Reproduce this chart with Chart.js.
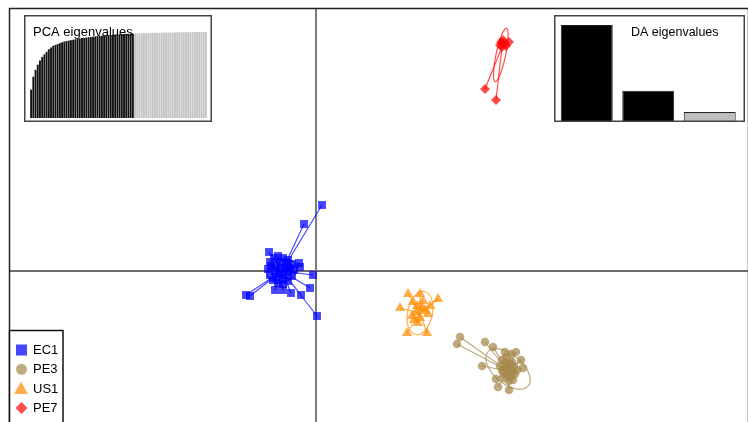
<!DOCTYPE html>
<html>
<head>
<meta charset="utf-8">
<script src="https://cdn.jsdelivr.net/npm/chart.js@4.4.1/dist/chart.umd.min.js"></script>
<style>
  body { margin: 0; background: #fff; overflow: hidden; }
  #wrap { position: relative; width: 748px; height: 422px; }
  canvas { position: absolute; }
</style>
</head>
<body>
<div id="wrap">
  <canvas id="scatter" width="748" height="430" style="left:0;top:0"></canvas>
  <canvas id="pcaInset" width="188" height="107" style="left:24px;top:15px"></canvas>
  <canvas id="daInset" width="191" height="107" style="left:554px;top:15px"></canvas>
</div>
<script>
// group labels and colours
const groups = ["EC1", "PE3", "US1", "PE7"];
const groupColors = ["rgba(0,0,255,0.72)", "rgba(165,135,75,0.7)", "rgba(255,140,0,0.7)", "rgba(255,0,0,0.7)"];
const groupShapes = ["rect", "circle", "triangle", "rectRot"];

// discriminant scores (LD1, LD2) per group
const ec1Scores = [
  [-1.15, 0.225], [-1.05, 0.325], [-0.95, 0.375], [-0.825, 0.325], [-0.7, 0.275], [-0.6, 0.175],
  [-0.55, 0.025], [-0.6, -0.125], [-0.7, -0.25], [-0.825, -0.325], [-0.95, -0.3], [-1.075, -0.225],
  [-1.15, -0.1], [-1.2, 0.05], [-1.0, 0.125], [-0.875, 0.075], [-0.75, 0.1], [-0.925, -0.075],
  [-0.8, -0.1], [-0.7, -0.025], [-1.025, 0], [-0.65, 0.075], [-1.125, 0.125], [-0.725, 0.2],
  [-0.9, 0.225], [-0.825, -0.2], [-1.0, -0.15],
  [-1.175, 0.475], [-0.3, 1.175], [0.15, 1.65], [-0.425, 0.2], [-0.4, 0.1], [-0.075, -0.1],
  [-0.15, -0.425], [-0.375, -0.6], [-0.625, -0.55], [-0.825, -0.475], [-1.025, -0.475],
  [-1.75, -0.6], [-1.65, -0.625], [0.025, -1.125]
];
const pe3Scores = [
  [3.6, -1.65], [3.525, -1.825], [4.225, -1.775], [4.425, -1.9], [4.15, -2.375], [4.5, -2.7],
  [4.55, -2.9], [4.825, -2.975], [5.175, -2.425], [5.125, -2.225], [5.0, -2.025], [4.725, -2.025],
  [4.875, -2.075], [4.65, -2.225], [4.75, -2.275], [4.85, -2.325], [4.95, -2.375], [4.725, -2.425],
  [4.825, -2.475], [4.925, -2.525], [4.675, -2.55], [4.775, -2.6], [4.875, -2.65], [4.975, -2.575],
  [4.6, -2.375], [4.7, -2.675], [4.825, -2.75], [4.925, -2.725], [5.025, -2.475], [4.65, -2.475],
  [4.8, -2.375], [4.9, -2.275], [4.75, -2.15]
];
const us1Scores = [
  [2.3, -0.575], [2.6, -0.575], [3.05, -0.7], [2.1, -0.925], [2.275, -1.55], [2.775, -1.55],
  [2.425, -0.775], [2.675, -0.75], [2.525, -0.875], [2.725, -0.975], [2.8, -1.075], [2.5, -1.025],
  [2.6, -1.175], [2.55, -1.3], [2.4, -1.125], [2.65, -0.925], [2.85, -0.875], [2.45, -1.225]
];
const pe7Scores = [
  [4.225, 4.55], [4.5, 4.275], [4.825, 5.725], [4.65, 5.6], [4.7, 5.7], [4.6, 5.65],
  [4.675, 5.775], [4.75, 5.625], [4.625, 5.725]
];
const groupScores = [ec1Scores, pe3Scores, us1Scores, pe7Scores];

// group centroids (star centres)
const groupCenters = [[-0.85, 0], [4.8, -2.5], [2.6, -1.05], [4.65, 5.6]];
// inertia ellipses: centre, semi-axes (LD units), angle in degrees
const ellipseCenters = [[-0.85, 0], [4.8, -2.45], [2.6, -1.05], [4.62, 5.4]];
const ellipseAxes = [[0.38, 0.28], [0.66, 0.36], [0.55, 0.31], [0.68, 0.12]];
const ellipseAngles = [20, -40, 78, 78];

// cumulative PCA eigenvalues (%) and number of retained PCs
const pcaEig = [
  33, 48, 56, 62, 67, 71, 74, 77, 80, 82, 84, 85, 86, 87, 88, 89, 89.5, 90, 90.5, 91,
  91.5, 92, 92.5, 93, 93.3, 93.6, 94, 94.3, 94.6, 94.9, 95.2, 95.5, 95.7, 95.9, 96.1, 96.3,
  96.5, 96.7, 96.9, 97.1, 97.3, 97.5, 97.7, 97.8, 97.9, 98, 98.1,
  98.3, 98.4, 98.5, 98.6, 98.7, 98.8, 98.9, 99, 99.05, 99.1, 99.15, 99.2, 99.25, 99.3,
  99.35, 99.4, 99.45, 99.5, 99.55, 99.6, 99.65, 99.7, 99.72, 99.75, 99.78, 99.8, 99.83,
  99.86, 99.9, 99.93, 99.96, 99.98, 100
];
const pcaRetained = 47;

// DA eigenvalues
const daEig = [97, 31.3, 10.1];
const daRetained = 2;

// build datasets
const datasets = [];
groups.forEach((g, i) => {
  datasets.push({
    label: g,
    data: groupScores[i].map(p => ({ x: p[0], y: p[1] })),
    pointStyle: groupShapes[i],
    pointRadius: [5.6, 4.3, 6, 5][i],
    backgroundColor: groupColors[i],
    borderColor: groupColors[i],
    borderWidth: 0,
    showLine: false,
    order: 0
  });
  const star = [];
  groupScores[i].forEach(p => {
    star.push({ x: groupCenters[i][0], y: groupCenters[i][1] });
    star.push({ x: p[0], y: p[1] });
  });
  datasets.push({
    label: g + " star",
    data: star,
    showLine: true,
    pointRadius: 0,
    borderColor: groupColors[i],
    borderWidth: 1.2,
    order: 1
  });
});

const scatterDecor = {
  id: "scatterDecor",
  beforeDatasetsDraw(chart) {
    const { ctx, chartArea, scales } = chart;
    const x0 = scales.x.getPixelForValue(0);
    const y0 = scales.y.getPixelForValue(0);
    ctx.save();
    ctx.strokeStyle = "#6e6e6e";
    ctx.lineWidth = 1.8;
    ctx.beginPath();
    ctx.moveTo(chartArea.left, y0);
    ctx.lineTo(chartArea.right, y0);
    ctx.moveTo(x0, chartArea.top);
    ctx.lineTo(x0, chartArea.bottom);
    ctx.stroke();
    // ellipses
    groups.forEach((g, i) => {
      const cx = scales.x.getPixelForValue(ellipseCenters[i][0]);
      const cy = scales.y.getPixelForValue(ellipseCenters[i][1]);
      const rx = Math.abs(scales.x.getPixelForValue(ellipseAxes[i][0]) - scales.x.getPixelForValue(0));
      const ry = Math.abs(scales.y.getPixelForValue(ellipseAxes[i][1]) - scales.y.getPixelForValue(0));
      ctx.strokeStyle = groupColors[i];
      ctx.lineWidth = 1.2;
      ctx.beginPath();
      ctx.ellipse(cx, cy, rx, ry, -ellipseAngles[i] * Math.PI / 180, 0, Math.PI * 2);
      ctx.stroke();
    });
    ctx.restore();
  },
  afterDraw(chart) {
    const { ctx, chartArea } = chart;
    ctx.save();
    // frame
    ctx.strokeStyle = "#222";
    ctx.lineWidth = 1.5;
    ctx.strokeRect(chartArea.left + 0.5, chartArea.top + 0.5, chartArea.right - chartArea.left, chartArea.bottom - chartArea.top);
    // legend
    ctx.fillStyle = "#fff";
    ctx.fillRect(9, 330, 54, 100);
    ctx.strokeStyle = "#111";
    ctx.strokeRect(9.5, 330.5, 53.5, 100);
    ctx.font = '13px "Liberation Sans", Arial, sans-serif';
    ctx.textBaseline = "middle";
    groups.forEach((g, i) => {
      const ly = 350 + i * 19.3;
      ctx.fillStyle = groupColors[i];
      ctx.beginPath();
      if (i === 0) {
        ctx.rect(16, ly - 5.5, 11, 11);
      } else if (i === 1) {
        ctx.arc(21.5, ly, 5.5, 0, Math.PI * 2);
      } else if (i === 2) {
        ctx.moveTo(21, ly - 7);
        ctx.lineTo(28, ly + 5.5);
        ctx.lineTo(14, ly + 5.5);
        ctx.closePath();
      } else {
        ctx.moveTo(21.5, ly - 6);
        ctx.lineTo(27.5, ly);
        ctx.lineTo(21.5, ly + 6);
        ctx.lineTo(15.5, ly);
        ctx.closePath();
      }
      ctx.fill();
      ctx.fillStyle = "#000";
      ctx.fillText(g, 33, ly + 0.5);
    });
    ctx.restore();
  }
};

new Chart(document.getElementById("scatter"), {
  type: "scatter",
  data: { datasets: datasets },
  options: {
    responsive: false,
    animation: false,
    layout: { autoPadding: false, padding: { left: 9, top: 8, right: 0, bottom: 1 } },
    scales: {
      x: { type: "linear", min: -7.675, max: 10.8, display: false },
      y: { type: "linear", min: -3.95, max: 6.575, display: false }
    },
    plugins: { legend: { display: false }, tooltip: { enabled: false } }
  },
  plugins: [scatterDecor]
});

// inset frame + title
function insetFrame(title, tx, ty, size) {
  return {
    id: "insetFrame",
    beforeDraw(chart) {
      const ctx = chart.ctx;
      ctx.save();
      ctx.fillStyle = "#fff";
      ctx.fillRect(0, 0, chart.width, chart.height);
      ctx.restore();
    },
    afterDraw(chart) {
      const ctx = chart.ctx;
      ctx.save();
      ctx.strokeStyle = "#444";
      ctx.lineWidth = 1.5;
      ctx.strokeRect(0.75, 0.75, chart.width - 1.5, chart.height - 1.5);
      ctx.fillStyle = "#000";
      ctx.font = size + 'px "Liberation Sans", Arial, sans-serif';
      ctx.textBaseline = "alphabetic";
      ctx.fillText(title, tx, ty);
      ctx.restore();
    }
  };
}

new Chart(document.getElementById("pcaInset"), {
  type: "bar",
  data: {
    labels: pcaEig.map((v, i) => i + 1),
    datasets: [{
      data: pcaEig,
      backgroundColor: pcaEig.map((v, i) => i < pcaRetained ? "#111" : "#c4c4c4"),
      borderWidth: 0,
      barPercentage: 0.85,
      categoryPercentage: 1
    }]
  },
  options: {
    responsive: false,
    animation: false,
    layout: { autoPadding: false, padding: { left: 6, top: 17, right: 5, bottom: 4 } },
    scales: {
      x: { display: false },
      y: { display: false, min: 0, max: 100 }
    },
    plugins: { legend: { display: false }, tooltip: { enabled: false } }
  },
  plugins: [insetFrame("PCA eigenvalues", 9, 21, 13)]
});

new Chart(document.getElementById("daInset"), {
  type: "bar",
  data: {
    labels: daEig.map((v, i) => i + 1),
    datasets: [{
      data: daEig,
      backgroundColor: daEig.map((v, i) => i < daRetained ? "#000" : "#bebebe"),
      borderColor: "#222",
      borderWidth: 1,
      barPercentage: 0.845,
      categoryPercentage: 1
    }]
  },
  options: {
    responsive: false,
    animation: false,
    layout: { autoPadding: false, padding: { left: 2, top: 7, right: 4.5, bottom: 0 } },
    scales: {
      x: { display: false },
      y: { display: false, min: 0, max: 100 }
    },
    plugins: { legend: { display: false }, tooltip: { enabled: false } }
  },
  plugins: [insetFrame("DA eigenvalues", 77, 21, 12.5)]
});
</script>
</body>
</html>
